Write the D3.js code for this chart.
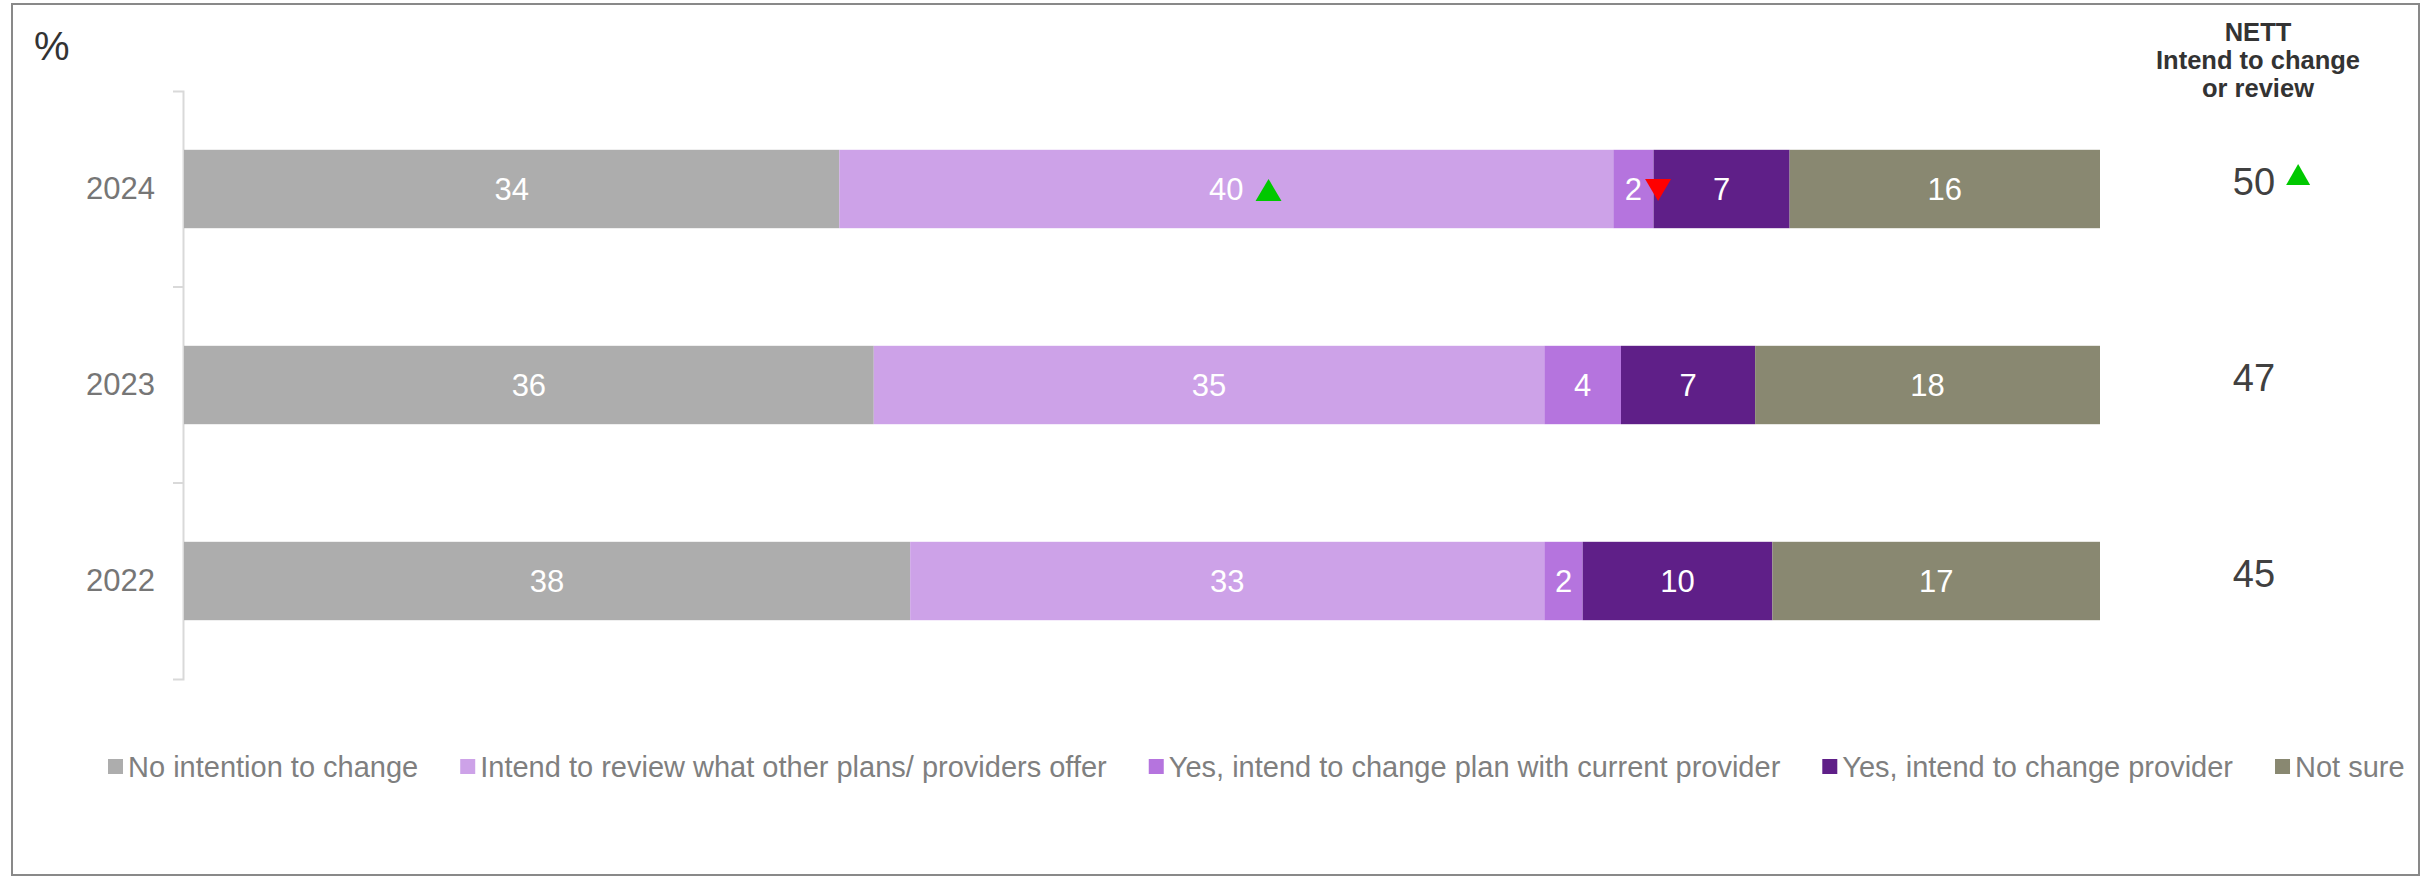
<!DOCTYPE html>
<html>
<head>
<meta charset="utf-8">
<script src="https://cdn.jsdelivr.net/npm/d3@7"></script>
<style>
  body { margin: 0; background: #fff; }
  text { font-family: Arial, "Liberation Sans", sans-serif; }
</style>
</head>
<body>
<script>
// Data
const years = ["2024", "2023", "2022"];
const seriesNames = [
    "No intention to change",
    "Intend to review what other plans/ providers offer",
    "Yes, intend to change plan with current provider",
    "Yes, intend to change provider",
    "Not sure"
];
const seriesColors = ["#adadad", "#cda2e8", "#b574de", "#5f1f88", "#898871"];
const noChange = [34.2, 36.0, 37.9];
const review = [40.4, 35.0, 33.1];
const changePlan = [2.1, 4.0, 2.0];
const changeProvider = [7.1, 7.0, 9.9];
const notSure = [16.2, 18.0, 17.1];
const nett = [50, 47, 45];
// significance markers
const segmentMarkers = [
    { year: "2024", series: 1, dir: "up" },
    { year: "2024", series: 2, dir: "down" }
];
const nettMarkers = [{ year: "2024", dir: "up" }];

const W = 2433, H = 879;

const svg = d3.select("body").append("svg")
    .attr("width", W)
    .attr("height", H);

// outer frame
svg.append("rect")
    .attr("x", 12).attr("y", 4)
    .attr("width", 2407).attr("height", 871)
    .attr("fill", "none")
    .attr("stroke", "#898989")
    .attr("stroke-width", 2);

// build rows for the stack
const seriesArrays = [noChange, review, changePlan, changeProvider, notSure];
const rows = years.map((yr, i) => {
    const r = { year: yr };
    seriesNames.forEach((s, j) => r[s] = seriesArrays[j][i]);
    return r;
});
const stacked = d3.stack().keys(seriesNames)(rows);

const x = d3.scaleLinear().domain([0, 100]).range([184, 2100]);
const y = d3.scaleBand().domain(years).range([91, 679])
    .paddingInner(0.6).paddingOuter(0.3);

// y axis
const yAxis = svg.append("g")
    .attr("transform", "translate(183,0)")
    .call(d3.axisLeft(y).tickSizeInner(0).tickSizeOuter(10).tickPadding(28));
yAxis.select(".domain").attr("stroke", "#d9d9d9").attr("stroke-width", 2);
yAxis.selectAll(".tick text")
    .attr("fill", "#767676")
    .style("font-size", "31px");

// category boundary ticks
svg.append("g").selectAll("line")
    .data(years.slice(1))
    .join("line")
    .attr("x1", 173).attr("x2", 183)
    .attr("y1", d => y(d) - y.step() * y.paddingInner() / 2)
    .attr("y2", d => y(d) - y.step() * y.paddingInner() / 2)
    .attr("stroke", "#d9d9d9")
    .attr("stroke-width", 2);

// bars
const layers = svg.append("g").selectAll("g")
    .data(stacked)
    .join("g")
    .attr("fill", (d, i) => seriesColors[i]);

layers.selectAll("rect")
    .data(d => d)
    .join("rect")
    .attr("x", d => x(d[0]))
    .attr("y", d => y(d.data.year))
    .attr("width", d => x(d[1]) - x(d[0]))
    .attr("height", y.bandwidth());

// segment labels
const labelNodes = {};
stacked.forEach((layer, i) => {
    layer.forEach(d => {
        const t = svg.append("text")
            .attr("x", (x(d[0]) + x(d[1])) / 2)
            .attr("y", y(d.data.year) + y.bandwidth() / 2)
            .attr("dy", "0.36em")
            .attr("text-anchor", "middle")
            .attr("fill", "#fff")
            .style("font-size", "31px")
            .text(Math.round(d[1] - d[0]));
        labelNodes[d.data.year + "_" + i] = t.node();
    });
});

function triangle(cx, bottom, w, h, dir) {
    if (dir === "up") {
        return `M${cx - w / 2},${bottom} L${cx + w / 2},${bottom} L${cx},${bottom - h} Z`;
    }
    return `M${cx - w / 2},${bottom - h} L${cx + w / 2},${bottom - h} L${cx},${bottom} Z`;
}

segmentMarkers.forEach(m => {
    const bb = labelNodes[m.year + "_" + m.series].getBBox();
    const gap = m.dir === "up" ? 12 : 3;
    const cy = y(m.year) + y.bandwidth() / 2;
    svg.append("path")
        .attr("d", triangle(bb.x + bb.width + gap + 13, cy + 12, 26, 22, m.dir))
        .attr("fill", m.dir === "up" ? "#00c800" : "#ff0000");
});

// NETT column
const nettX = 2254;
svg.append("text")
    .attr("x", 2258)
    .attr("y", 41)
    .attr("text-anchor", "middle")
    .attr("fill", "#333")
    .style("font-size", "25.5px")
    .style("font-weight", "bold")
    .selectAll("tspan")
    .data(["NETT", "Intend to change", "or review"])
    .join("tspan")
    .attr("x", 2258)
    .attr("dy", (d, i) => i === 0 ? 0 : 28)
    .text(d => d);

const nettNodes = {};
years.forEach((yr, i) => {
    const t = svg.append("text")
        .attr("x", nettX)
        .attr("y", y(yr) + y.bandwidth() / 2 + 6)
        .attr("text-anchor", "middle")
        .attr("fill", "#404040")
        .style("font-size", "38px")
        .text(nett[i]);
    nettNodes[yr] = t.node();
});

nettMarkers.forEach(m => {
    const bb = nettNodes[m.year].getBBox();
    const base = y(m.year) + y.bandwidth() / 2 + 6;
    svg.append("path")
        .attr("d", triangle(bb.x + bb.width + 11 + 12, base - 10, 24, 21, m.dir))
        .attr("fill", "#00c800");
});

// "%" label
svg.append("text")
    .attr("x", 34).attr("y", 60)
    .attr("fill", "#333")
    .style("font-size", "40px")
    .text("%");

// legend
const legend = svg.append("g");
let lx = 108;
seriesNames.forEach((s, i) => {
    legend.append("rect")
        .attr("x", lx).attr("y", 759)
        .attr("width", 15).attr("height", 15)
        .attr("fill", seriesColors[i]);
    const t = legend.append("text")
        .attr("x", lx + 20).attr("y", 777)
        .attr("fill", "#7f7f7f")
        .style("font-size", "29px")
        .text(s);
    lx += 20 + t.node().getComputedTextLength() + 42;
});
</script>
</body>
</html>
